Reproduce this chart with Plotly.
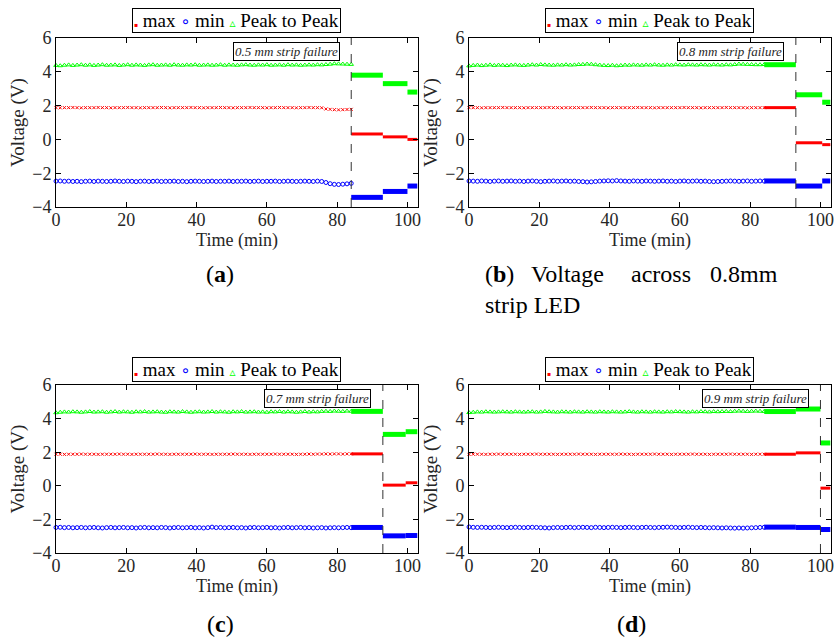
import plotly.graph_objects as go

FONT = "Liberation Serif"
SAMPLE_STEP = 1.2  # minutes between the sparse (pre-failure) samples

# ---------------- panel (a): 0.5 mm strip ----------------
a_max = [1.88,1.87,1.88,1.88,1.89,1.88,1.87,1.88,1.88,1.88,1.89,1.88,1.88,1.87,1.88,1.88,1.88,1.89,1.88,1.88,
         1.87,1.88,1.88,1.88,1.88,1.89,1.88,1.87,1.88,1.88,1.88,1.88,1.89,1.88,1.88,1.87,1.88,1.88,1.88,1.89,
         1.88,1.88,1.87,1.88,1.88,1.88,1.89,1.88,1.88,1.88,1.87,1.88,1.88,1.89,1.88,1.88,1.88,1.87,1.88,1.88,
         1.89,1.88,1.88,1.87,1.80,1.78,1.76,1.75,1.76,1.77,1.78]
a_min = [-2.47,-2.46,-2.48,-2.47,-2.49,-2.48,-2.50,-2.48,-2.47,-2.49,-2.47,-2.48,-2.49,-2.48,-2.46,-2.48,-2.49,-2.47,-2.48,-2.50,
         -2.48,-2.47,-2.49,-2.48,-2.47,-2.49,-2.48,-2.48,-2.47,-2.49,-2.48,-2.50,-2.48,-2.47,-2.48,-2.49,-2.48,-2.47,-2.49,-2.48,
         -2.48,-2.47,-2.49,-2.48,-2.48,-2.47,-2.49,-2.48,-2.47,-2.49,-2.48,-2.48,-2.47,-2.49,-2.48,-2.47,-2.48,-2.49,-2.48,-2.47,
         -2.48,-2.49,-2.47,-2.49,-2.55,-2.62,-2.66,-2.67,-2.65,-2.63,-2.60]
a_p2p = [4.38,4.36,4.39,4.41,4.38,4.40,4.42,4.39,4.41,4.38,4.40,4.42,4.39,4.40,4.41,4.38,4.40,4.42,4.39,4.41,
         4.40,4.38,4.41,4.42,4.39,4.40,4.41,4.39,4.42,4.40,4.39,4.41,4.40,4.42,4.39,4.40,4.41,4.39,4.40,4.42,
         4.39,4.41,4.40,4.39,4.41,4.42,4.40,4.39,4.41,4.40,4.42,4.39,4.40,4.41,4.39,4.42,4.40,4.41,4.39,4.40,
         4.41,4.40,4.42,4.41,4.43,4.45,4.48,4.47,4.46,4.45,4.44]
a_seg_start = [84, 93, 100]
a_seg_end = [93, 100, 102.8]
a_seg_max = [0.32, 0.15, 0.00]
a_seg_min = [-3.43, -3.08, -2.76]
a_seg_p2p = [3.80, 3.30, 2.80]
a_failure = 84
a_note = "0.5 mm strip failure"

# ---------------- panel (b): 0.8 mm strip ----------------
b_max = [1.88,1.88,1.88,1.87,1.88,1.88,1.88,1.88,1.89,1.88,1.88,1.88,1.88,1.87,1.88,1.88,1.88,1.88,1.88,1.89,
         1.88,1.88,1.87,1.88,1.88,1.88,1.88,1.88,1.88,1.89,1.88,1.88,1.88,1.87,1.88,1.88,1.88,1.88,1.88,1.88,
         1.89,1.88,1.88,1.88,1.87,1.88,1.88,1.88,1.88,1.88,1.88,1.89,1.88,1.88,1.88,1.87,1.88,1.88,1.88,1.88,
         1.88,1.89,1.88,1.88,1.88,1.88,1.87,1.88,1.88,1.88,1.88]
b_min = [-2.46,-2.47,-2.48,-2.46,-2.47,-2.49,-2.47,-2.46,-2.48,-2.47,-2.46,-2.48,-2.47,-2.49,-2.47,-2.46,-2.48,-2.50,-2.48,-2.47,
         -2.46,-2.48,-2.47,-2.46,-2.48,-2.47,-2.49,-2.50,-2.52,-2.51,-2.49,-2.47,-2.46,-2.45,-2.46,-2.44,-2.46,-2.47,-2.48,-2.46,
         -2.47,-2.48,-2.46,-2.47,-2.48,-2.47,-2.46,-2.48,-2.47,-2.49,-2.47,-2.46,-2.48,-2.47,-2.46,-2.48,-2.47,-2.49,-2.50,-2.49,
         -2.48,-2.47,-2.46,-2.47,-2.48,-2.47,-2.46,-2.48,-2.47,-2.46,-2.47]
b_p2p = [4.35,4.38,4.40,4.37,4.39,4.41,4.38,4.40,4.39,4.37,4.40,4.41,4.39,4.38,4.40,4.42,4.40,4.43,4.41,4.40,
         4.39,4.41,4.40,4.42,4.40,4.41,4.43,4.44,4.46,4.45,4.42,4.40,4.38,4.37,4.39,4.36,4.38,4.40,4.39,4.41,
         4.40,4.39,4.41,4.40,4.42,4.40,4.39,4.41,4.40,4.42,4.41,4.40,4.42,4.41,4.40,4.42,4.41,4.40,4.42,4.41,
         4.40,4.42,4.41,4.43,4.46,4.45,4.44,4.43,4.42,4.42,4.43]
b_seg_start = [84, 93, 100.5]
b_seg_end = [93, 100.5, 102.8]
b_seg_max = [1.88, -0.20, -0.31]
b_seg_min = [-2.46, -2.76, -2.46]
b_seg_p2p = [4.42, 2.64, 2.20]
b_failure = 93
b_note = "0.8 mm strip failure"

# ---------------- panel (c): 0.7 mm strip ----------------
c_max = [1.88,1.88,1.87,1.88,1.88,1.88,1.89,1.88,1.88,1.88,1.87,1.88,1.88,1.88,1.88,1.89,1.88,1.88,1.87,1.88,
         1.88,1.88,1.88,1.88,1.89,1.88,1.88,1.87,1.88,1.88,1.88,1.88,1.88,1.89,1.88,1.88,1.88,1.87,1.88,1.88,
         1.88,1.88,1.89,1.88,1.88,1.88,1.87,1.88,1.88,1.88,1.88,1.88,1.89,1.88,1.88,1.88,1.88,1.87,1.88,1.88,
         1.89,1.88,1.89,1.89,1.90,1.89,1.90,1.90,1.89,1.90,1.90]
c_min = [-2.48,-2.47,-2.49,-2.48,-2.50,-2.49,-2.48,-2.50,-2.49,-2.48,-2.50,-2.51,-2.49,-2.48,-2.50,-2.49,-2.48,-2.50,-2.49,-2.51,
         -2.49,-2.48,-2.50,-2.49,-2.50,-2.48,-2.49,-2.51,-2.49,-2.48,-2.50,-2.49,-2.48,-2.50,-2.49,-2.51,-2.49,-2.46,-2.49,-2.48,
         -2.50,-2.49,-2.48,-2.50,-2.49,-2.51,-2.49,-2.48,-2.50,-2.49,-2.48,-2.50,-2.49,-2.51,-2.49,-2.48,-2.50,-2.49,-2.48,-2.50,
         -2.49,-2.51,-2.50,-2.49,-2.51,-2.50,-2.49,-2.50,-2.49,-2.48,-2.49]
c_p2p = [4.35,4.38,4.40,4.39,4.41,4.40,4.38,4.40,4.42,4.39,4.40,4.41,4.38,4.40,4.42,4.39,4.41,4.40,4.38,4.41,
         4.40,4.42,4.39,4.40,4.41,4.39,4.38,4.41,4.40,4.39,4.42,4.40,4.38,4.40,4.41,4.39,4.40,4.42,4.39,4.41,
         4.40,4.38,4.41,4.40,4.42,4.39,4.40,4.41,4.39,4.40,4.38,4.41,4.40,4.42,4.39,4.41,4.40,4.38,4.40,4.42,
         4.39,4.41,4.40,4.43,4.44,4.43,4.45,4.44,4.43,4.45,4.44]
c_seg_start = [84, 93, 99.5]
c_seg_end = [93, 99.5, 102.8]
c_seg_max = [1.90, 0.04, 0.18]
c_seg_min = [-2.48, -2.98, -2.96]
c_seg_p2p = [4.43, 3.06, 3.22]
c_failure = 93
c_note = "0.7 mm strip failure"

# ---------------- panel (d): 0.9 mm strip ----------------
d_max = [1.87,1.88,1.88,1.88,1.87,1.88,1.88,1.89,1.88,1.88,1.88,1.88,1.87,1.88,1.88,1.88,1.89,1.88,1.88,1.88,
         1.88,1.87,1.88,1.88,1.88,1.88,1.89,1.88,1.88,1.88,1.87,1.88,1.88,1.88,1.88,1.88,1.89,1.88,1.88,1.87,
         1.88,1.88,1.88,1.88,1.89,1.88,1.88,1.88,1.87,1.88,1.88,1.88,1.88,1.89,1.88,1.88,1.88,1.87,1.88,1.88,
         1.88,1.88,1.89,1.88,1.88,1.88,1.88,1.87,1.88,1.88,1.88]
d_min = [-2.45,-2.47,-2.48,-2.47,-2.48,-2.49,-2.48,-2.47,-2.48,-2.49,-2.48,-2.47,-2.48,-2.49,-2.48,-2.47,-2.48,-2.49,-2.50,-2.51,
         -2.49,-2.48,-2.49,-2.48,-2.47,-2.49,-2.48,-2.47,-2.48,-2.49,-2.47,-2.48,-2.49,-2.48,-2.47,-2.48,-2.49,-2.48,-2.47,-2.48,
         -2.49,-2.48,-2.47,-2.48,-2.49,-2.48,-2.47,-2.46,-2.47,-2.48,-2.49,-2.48,-2.47,-2.48,-2.49,-2.48,-2.49,-2.50,-2.49,-2.50,
         -2.51,-2.50,-2.51,-2.52,-2.51,-2.52,-2.51,-2.50,-2.49,-2.48,-2.47]
d_p2p = [4.36,4.38,4.40,4.39,4.41,4.40,4.39,4.40,4.41,4.40,4.39,4.41,4.40,4.39,4.40,4.41,4.39,4.40,4.43,4.41,
         4.40,4.39,4.41,4.40,4.39,4.41,4.40,4.39,4.41,4.40,4.39,4.41,4.40,4.39,4.41,4.40,4.39,4.40,4.42,4.40,
         4.39,4.41,4.40,4.39,4.41,4.40,4.39,4.41,4.40,4.42,4.41,4.40,4.39,4.41,4.40,4.42,4.41,4.40,4.42,4.41,
         4.42,4.43,4.42,4.44,4.45,4.44,4.43,4.44,4.45,4.44,4.43]
d_seg_start = [84, 93, 100]
d_seg_end = [93, 100, 102.8]
d_seg_max = [1.88, 1.96, -0.14]
d_seg_min = [-2.46, -2.48, -2.60]
d_seg_p2p = [4.42, 4.57, 2.55]
d_failure = 100
d_note = "0.9 mm strip failure"

x_ticks = [0, 20, 40, 60, 80, 100]
y_ticks = [-4, -2, 0, 2, 4, 6]
x_range = [0, 103]
y_range = [-4, 6]
series_names = ["max", "min", "Peak to Peak"]
series_colors = ["#ff0000", "#0000ff", "#00ff00"]
legend_glyphs = ["\u25aa", "\u2218", "\u25b5"]
legend_glyph_sizes = [6, 16, 12]

W, H = 837, 637

panels = [
    dict(mx=a_max, mn=a_min, pp=a_p2p, ss=a_seg_start, se=a_seg_end,
         smx=a_seg_max, smn=a_seg_min, spp=a_seg_p2p, fail=a_failure, note=a_note,
         box=(56, 418, 38, 207), leg=(236, 21)),
    dict(mx=b_max, mn=b_min, pp=b_p2p, ss=b_seg_start, se=b_seg_end,
         smx=b_seg_max, smn=b_seg_min, spp=b_seg_p2p, fail=b_failure, note=b_note,
         box=(469, 831, 38, 207), leg=(649, 21)),
    dict(mx=c_max, mn=c_min, pp=c_p2p, ss=c_seg_start, se=c_seg_end,
         smx=c_seg_max, smn=c_seg_min, spp=c_seg_p2p, fail=c_failure, note=c_note,
         box=(56, 418, 385, 553), leg=(236, 369)),
    dict(mx=d_max, mn=d_min, pp=d_p2p, ss=d_seg_start, se=d_seg_end,
         smx=d_seg_max, smn=d_seg_min, spp=d_seg_p2p, fail=d_failure, note=d_note,
         box=(469, 831, 385, 553), leg=(649, 369)),
]

fig = go.Figure()
marker_styles = [
    dict(symbol="x-thin", size=3, color=series_colors[0], line=dict(width=1, color=series_colors[0])),
    dict(symbol="circle-open", size=4, color=series_colors[1], line=dict(width=1)),
    dict(symbol="triangle-up-open", size=4, color=series_colors[2], line=dict(width=1)),
]
seg_widths = [3, 5, 5]

# legend text (one bordered key per panel)
legend_parts = []
for g, gs, c, n in zip(legend_glyphs, legend_glyph_sizes, series_colors, series_names):
    legend_parts.append(
        '<span style="color:%s;font-size:%dpx;font-family:DejaVu Sans">%s</span> %s'
        % (c, gs, g, n))
legend_text = " ".join(legend_parts)

layout = {}
shapes = []
annotations = []

for i, p in enumerate(panels):
    k = "" if i == 0 else str(i + 1)
    xa, ya = "x" + k, "y" + k
    times = [j * SAMPLE_STEP for j in range(len(p["mx"]))]
    for s, vals in enumerate([p["mx"], p["mn"], p["pp"]]):
        fig.add_trace(go.Scatter(
            x=times, y=vals, mode="markers", name=series_names[s],
            marker=marker_styles[s], xaxis=xa, yaxis=ya,
            showlegend=False, cliponaxis=False))
    for s, levels in enumerate([p["smx"], p["smn"], p["spp"]]):
        xs, ys = [], []
        for st, en, lv in zip(p["ss"], p["se"], levels):
            xs += [st, en, None]
            ys += [lv, lv, None]
        fig.add_trace(go.Scatter(
            x=xs, y=ys, mode="lines", name=series_names[s],
            line=dict(color=series_colors[s], width=seg_widths[s]),
            xaxis=xa, yaxis=ya, showlegend=False, hoverinfo="skip"))

    x0, x1, y0, y1 = p["box"]
    axis_common = dict(
        showline=True, linecolor="black", linewidth=1, mirror="ticks",
        ticks="inside", ticklen=5, tickcolor="black", showgrid=False, zeroline=False,
        tickfont=dict(family=FONT, size=18, color="#262626"))
    layout["xaxis" + k] = dict(
        domain=[x0 / W, x1 / W], anchor=ya, range=x_range, tickvals=x_ticks,
        ticklabelstandoff=-4,
        title=dict(text="Time (min)", font=dict(family=FONT, size=18, color="#262626"), standoff=0),
        **axis_common)
    layout["yaxis" + k] = dict(
        domain=[1 - y1 / H, 1 - y0 / H], anchor=xa, range=y_range, tickvals=y_ticks,
        title=dict(text="Voltage (V)", font=dict(family=FONT, size=19, color="#262626"), standoff=2),
        **axis_common)
    lx, ly = p["leg"]
    annotations.append(dict(
        xref="paper", yref="paper", x=lx / W, y=1 - ly / H, xanchor="center", yanchor="middle",
        text=legend_text, showarrow=False, font=dict(family=FONT, size=19, color="black"),
        bordercolor="black", borderwidth=1, borderpad=1, bgcolor="white"))
    shapes.append(dict(type="line", xref=xa, yref=ya, x0=p["fail"], x1=p["fail"],
                       y0=y_range[0], y1=y_range[1],
                       line=dict(color="#333333", width=1, dash="dash")))
    annotations.append(dict(
        xref=xa, yref=ya, x=p["fail"] - 3.3, y=y_range[1], xanchor="right", yanchor="top",
        yshift=-4, text="<i>" + p["note"] + "</i>", showarrow=False,
        font=dict(family=FONT, size=13, color="#262626"),
        bordercolor="black", borderwidth=1, borderpad=1, bgcolor="white"))

cap_font = dict(family=FONT, size=24, color="black")
captions = [
    ("(<b>a</b>)", 220, 274, "center"),
    ("(<b>c</b>)", 220, 624, "center"),
    ("(<b>d</b>)", 631, 624, "center"),
    ("(<b>b</b>)", 483, 274, "left"),
    ("Voltage", 529, 274, "left"),
    ("across", 629, 274, "left"),
    ("0.8mm", 780, 274, "right"),
    ("strip LED", 483, 305, "left"),
]
for txt, px, py, anc in captions:
    annotations.append(dict(xref="paper", yref="paper", x=px / W, y=1 - py / H,
                            xanchor=anc, yanchor="middle", text=txt, showarrow=False,
                            font=cap_font))

fig.update_layout(
    width=W, height=H, margin=dict(l=0, r=0, t=0, b=0, autoexpand=False),
    paper_bgcolor="white", plot_bgcolor="white", showlegend=False,
    shapes=shapes, annotations=annotations, **layout)

fig.write_html("out.html")
